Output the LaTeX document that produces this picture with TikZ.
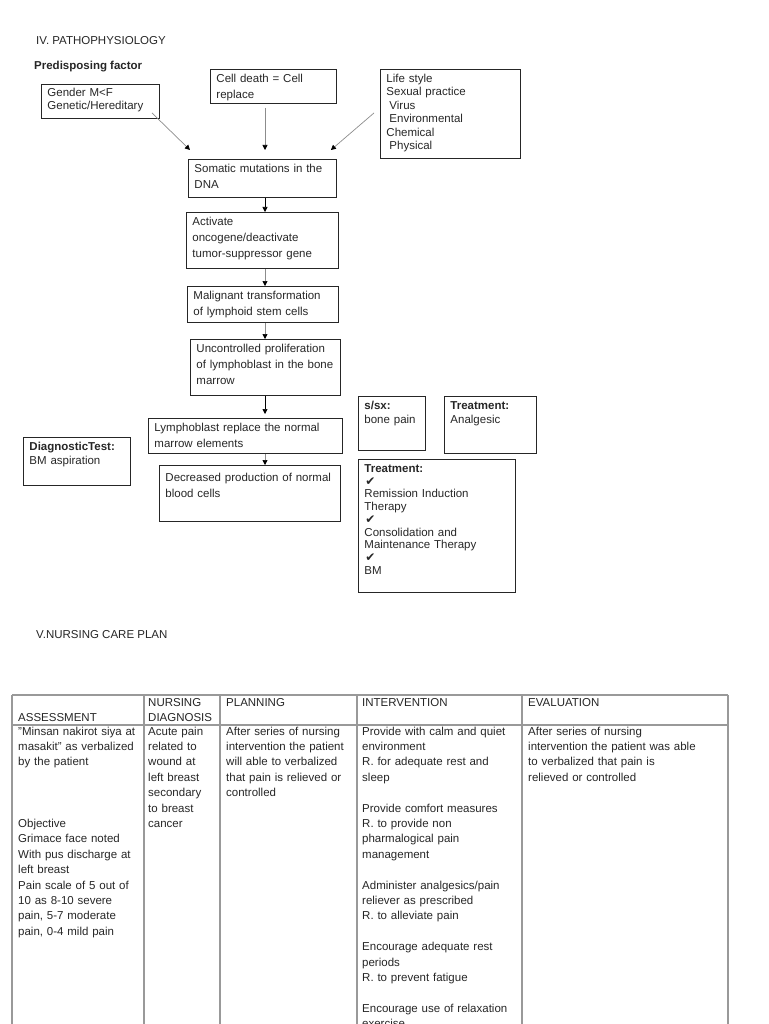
\documentclass[tikz,border=0pt]{standalone}
\usepackage{fontspec}
\setmainfont{Liberation Sans}
\newfontfamily\symfont{DejaVu Sans}
\usepackage{tikz}
\usetikzlibrary{positioning,calc,arrows.meta}

\tikzset{
	box/.style 2 args={draw=black!85, line width=0.9pt, anchor=north west, align=left, inner xsep=6pt, inner ysep=0pt, text height=13pt, text width=#1, text depth=#2},
	link/.style={->, draw=black!45, line width=0.7pt},
	cell/.style={anchor=base west, align=left, inner sep=0pt, text width=#1, font=\fontsize{11.5}{15.4}\selectfont},
	rule/.style={draw=black!40, line width=1.2pt}
}
\newcommand{\chk}{{\symfont\fontsize{12}{12.75}\selectfont\hspace*{1pt}✔}}

\begin{document}
\begin{tikzpicture}[x=1pt,y=-1pt,>={Triangle[length=5pt,width=5pt,color=black]},font=\fontsize{11.5}{16}\selectfont,text=black!85]
	\useasboundingbox (0,0) rectangle (768,1024);
	\clip (0,0) rectangle (768,1024);

	\node[anchor=base west, inner sep=0pt] (title) at (36,45) {IV. PATHOPHYSIOLOGY};
	\node[anchor=base west, inner sep=0pt, font=\fontsize{11.5}{16}\selectfont\bfseries] (predis) at (34,70) {Predisposing factor};

	\node[box={106pt}{22pt}, text height=12pt, font=\fontsize{11.5}{13}\selectfont] (gender) at (41,84) {Gender M<F\\Genetic/Hereditary};
	\node[box={114pt}{21pt}] (cell) at (210,69) {Cell death = Cell\\replace};
	\node[box={128pt}{76pt}, font=\fontsize{11.5}{13.5}\selectfont] (life) at (380,69) {Life style\\Sexual practice\\\hspace*{3pt}Virus\\\hspace*{3pt}Environmental\\Chemical\\\hspace*{3pt}Physical};
	\node[box={136pt}{25pt}] (somatic) at (188,159) {Somatic mutations in the\\DNA};
	\node[box={140pt}{43pt}] (activate) at (186,212) {Activate\\oncogene/deactivate\\tumor-suppressor gene};
	\node[box={139pt}{23pt}] (malignant) at (187,286) {Malignant transformation\\of lymphoid stem cells};
	\node[box={138pt}{43pt}] (prolif) at (190,339) {Uncontrolled proliferation\\of lymphoblast in the bone\\marrow};
	\node[box={182pt}{22pt}] (replace) at (148,418) {Lymphoblast replace the normal\\marrow elements};
	\node[box={169pt}{40pt}, text height=16pt] (decrease) at (159,465) {Decreased production of normal\\blood cells};

	\node[box={95pt}{35pt}, font=\fontsize{11.5}{14}\selectfont] (diag) at (23,437) {\textbf{DiagnosticTest:}\\BM aspiration};
	\node[box={55pt}{41pt}, font=\fontsize{11.5}{14}\selectfont] (ssx) at (358,396) {\textbf{s/sx:}\\bone pain};
	\node[box={80pt}{44pt}, font=\fontsize{11.5}{14}\selectfont] (analg) at (444,396) {\textbf{Treatment:}\\Analgesic};
	\node[box={145pt}{120pt}, font=\fontsize{11.5}{12.75}\selectfont] (therapy) at (358,459) {\textbf{Treatment:}\\\chk\\Remission Induction\\Therapy\\\chk\\Consolidation and\\Maintenance Therapy\\\chk\\BM};

	\coordinate (spine) at (265,0);
	\draw[link] ($(gender.south east)+(-8,-6)$) -- ($(somatic.north west)+(2,-9)$);
	\draw[link] ($(cell.south -| spine)+(0,4)$) -- ($(somatic.north -| spine)+(0,-9)$);
	\draw[link] ($(life.west)+(-6,-1)$) -- ($(somatic.north east)+(-6,-9)$);
	\draw[link, draw=black] (somatic.south -| spine) -- (activate.north -| spine);
	\draw[link] (activate.south -| spine) -- (malignant.north -| spine);
	\draw[link] (malignant.south -| spine) -- (prolif.north -| spine);
	\draw[link, draw=black] (prolif.south -| spine) -- ($(replace.north -| spine)+(0,-4)$);
	\draw[link] (replace.south -| spine) -- (decrease.north -| spine);

	\node[anchor=base west, inner sep=0pt] (plan) at (36,638) {V.NURSING CARE PLAN};

	\draw[rule] (12,695) -- (728,695);
	\draw[rule] (12,725) -- (728,725);
	\foreach \x in {12,144,220,357,522,728}
		\draw[rule] (\x,695) -- (\x,1030);

	\node[cell=124pt] (hassess) at (18,721) {ASSESSMENT};
	\node[cell=72pt] (hdiag) at (148,706) {NURSING\\DIAGNOSIS};
	\node[cell=128pt] (hplan) at (226,706) {PLANNING};
	\node[cell=158pt] (hinterv) at (362,706) {INTERVENTION};
	\node[cell=196pt] (heval) at (528,706) {EVALUATION};

	\node[cell=124pt] (assess) at (18,735) {"Minsan nakirot siya at\\masakit" as verbalized\\by the patient\\[46.2pt]Objective\\Grimace face noted\\With pus discharge at\\left breast\\Pain scale of 5 out of\\10 as 8-10 severe\\pain, 5-7 moderate\\pain, 0-4 mild pain};
	\node[cell=72pt] (diagnosis) at (148,735) {Acute pain\\related to\\wound at\\left breast\\secondary\\to breast\\cancer};
	\node[cell=128pt] (planning) at (226,735) {After series of nursing\\intervention the patient\\will able to verbalized\\that pain is relieved or\\controlled};
	\node[cell=158pt] (interv) at (362,735) {Provide with calm and quiet\\environment\\R. for adequate rest and\\sleep\\[15.4pt]Provide comfort measures\\R. to provide non\\pharmalogical pain\\management\\[15.4pt]Administer analgesics/pain\\reliever as prescribed\\R. to alleviate pain\\[15.4pt]Encourage adequate rest\\periods\\R. to prevent fatigue\\[15.4pt]Encourage use of relaxation\\exercise};
	\node[cell=196pt] (eval) at (528,735) {After series of nursing\\intervention the patient was able\\to verbalized that pain is\\relieved or controlled};
\end{tikzpicture}
\end{document}
